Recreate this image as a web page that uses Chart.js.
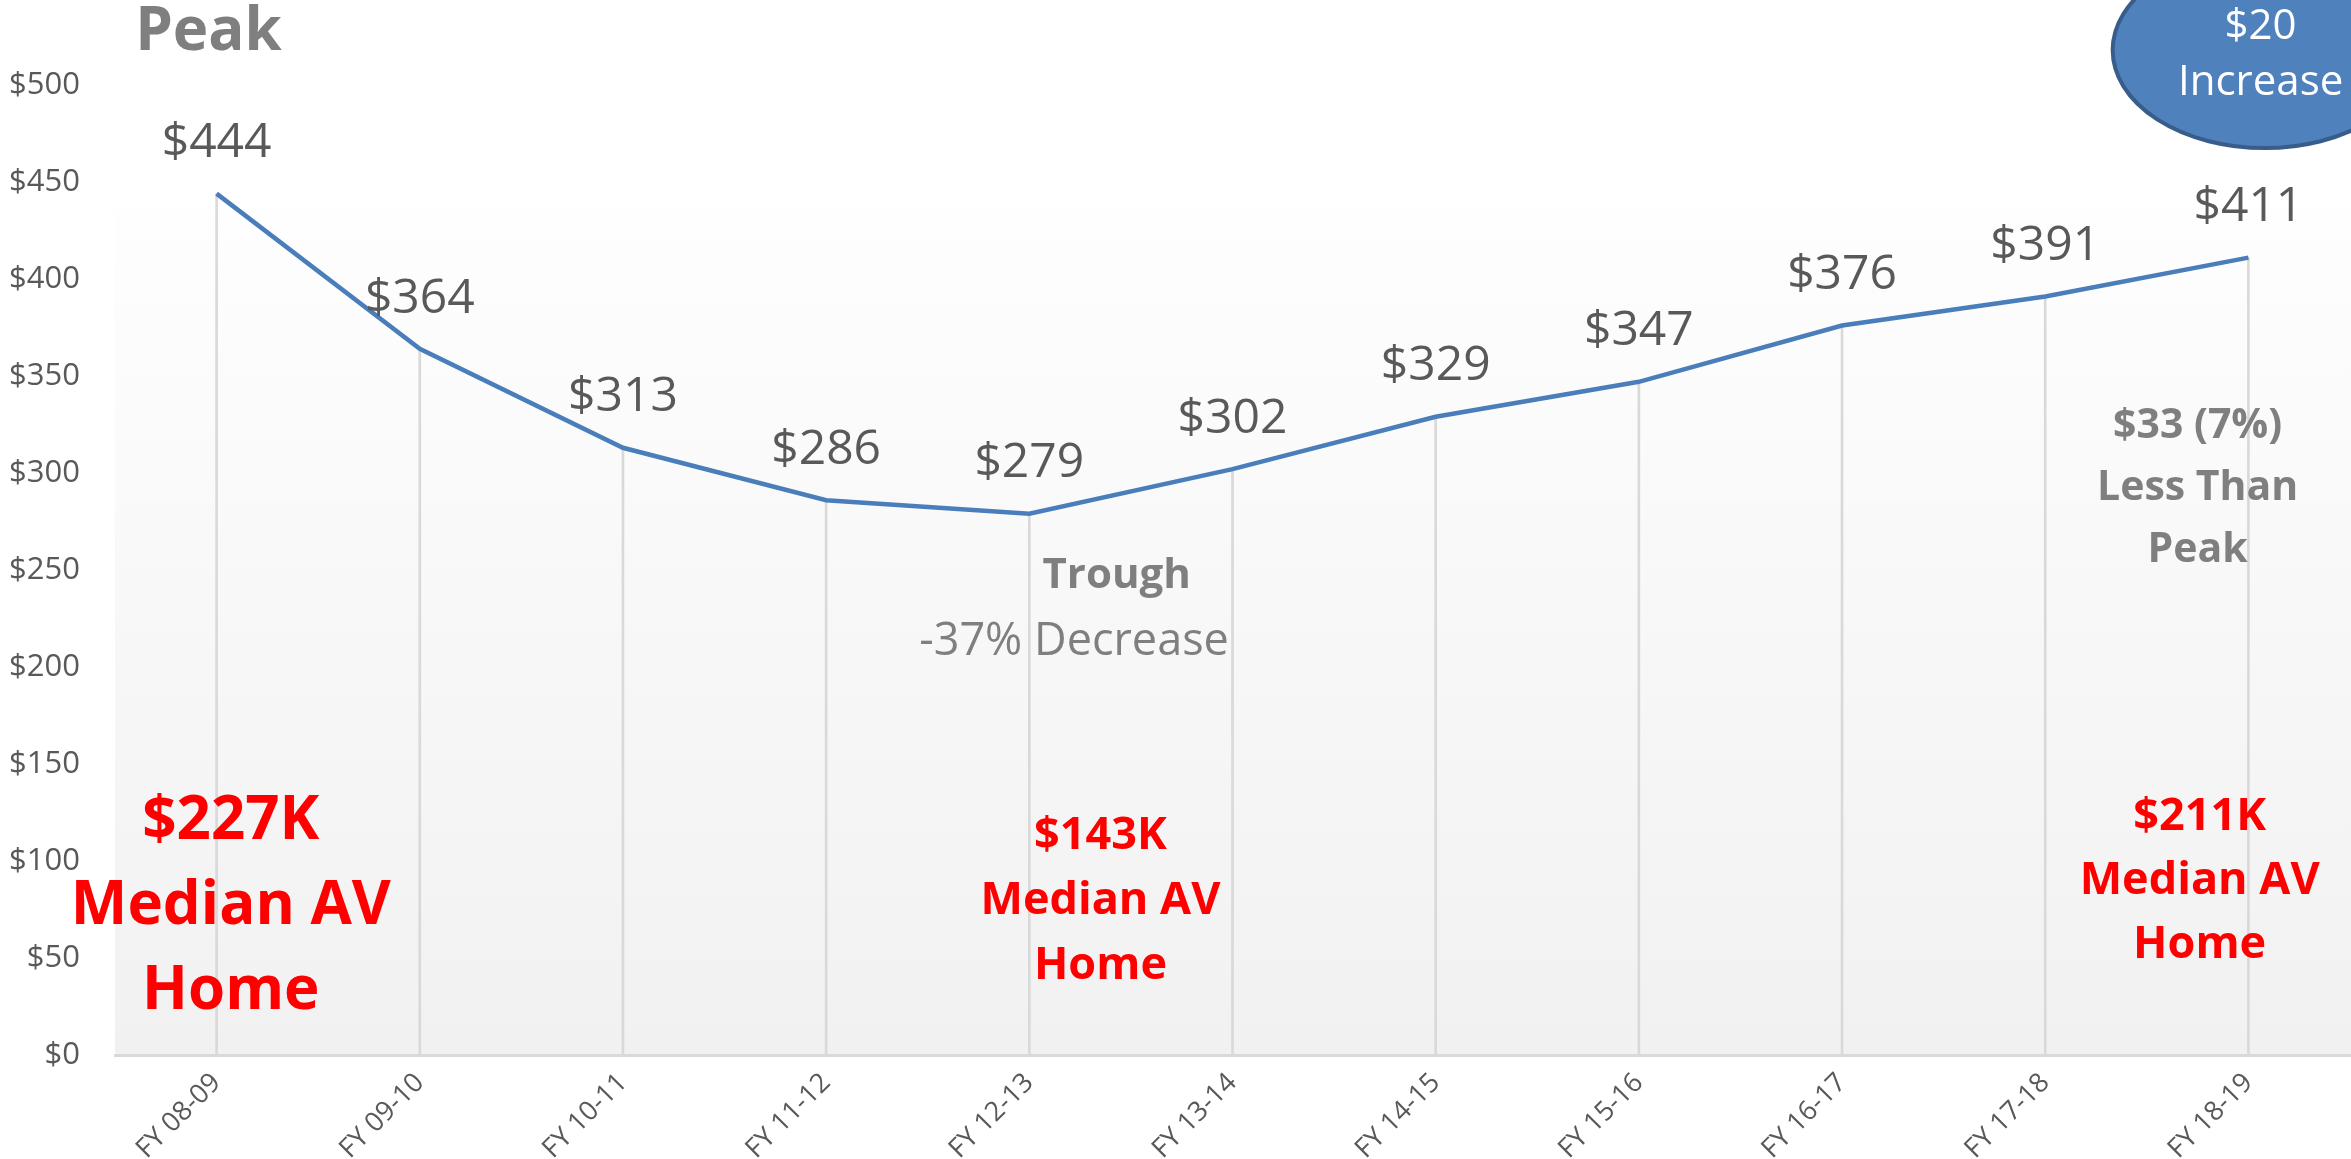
<!DOCTYPE html>
<html>
<head>
<meta charset="utf-8">
<script src="https://cdn.jsdelivr.net/npm/chart.js@4.4.0/dist/chart.umd.min.js"></script>
<style>
  html, body { margin: 0; padding: 0; background: #ffffff; }
  #wrap { width: 2351px; height: 1159px; position: relative; }
</style>
</head>
<body>
<div id="wrap"><canvas id="chart" width="2351" height="1159"></canvas></div>
<script>
// Fiscal years and values (dollars)
const categories = ['FY 08-09', 'FY 09-10', 'FY 10-11', 'FY 11-12', 'FY 12-13', 'FY 13-14',
                    'FY 14-15', 'FY 15-16', 'FY 16-17', 'FY 17-18', 'FY 18-19'];
const values = [444, 364, 313, 286, 279, 302, 329, 347, 376, 391, 411];
const yMin = 0;
const yMax = 500;
const yStep = 50;

const FONT = '"Open Sans", "Noto Sans", sans-serif';
const GRAY = '#595959';
const NOTE_GRAY = '#7f7f7f';
const RED = '#ff0000';

// Callout text, positioned in axis units (category index, value)
const notes = [
    { lines: ['Peak'], idx: -0.04, val: 527, lh: 0, font: 'bold 60px', color: NOTE_GRAY },
    { lines: ['$33 (7%)', 'Less Than', 'Peak'], idx: 9.75, val: 324, lh: 62, font: 'bold 41px', color: NOTE_GRAY },
    { lines: ['Trough'], idx: 4.43, val: 247, lh: 0, font: 'bold 42px', color: NOTE_GRAY },
    { lines: ['-37% Decrease'], idx: 4.22, val: 213, lh: 0, font: '45px', color: NOTE_GRAY },
    { lines: ['$227K', 'Median AV', 'Home'], idx: 0.07, val: 120, lh: 85, font: 'bold 60px', color: RED },
    { lines: ['$143K', 'Median AV', 'Home'], idx: 4.35, val: 113, lh: 65, font: 'bold 45px', color: RED },
    { lines: ['$211K', 'Median AV', 'Home'], idx: 9.76, val: 122.5, lh: 64, font: 'bold 45px', color: RED }
];

// Plot background: soft white-to-grey gradient
const backgroundPlugin = {
    id: 'plotBackground',
    beforeDraw(chart) {
        const { ctx, chartArea, scales } = chart;
        const top = scales.y.getPixelForValue(436);
        const g = ctx.createLinearGradient(0, top, 0, chartArea.bottom);
        g.addColorStop(0, '#fefefe');
        g.addColorStop(1, '#f1f1f1');
        ctx.save();
        ctx.fillStyle = g;
        ctx.fillRect(chartArea.left, top, chartArea.right - chartArea.left + 1, chartArea.bottom - top);
        ctx.restore();
    }
};

// Value labels above each line point, callouts and the ellipse badge
const labelPlugin = {
    id: 'labels',
    afterDatasetsDraw(chart) {
        const { ctx, scales } = chart;
        const meta = chart.getDatasetMeta(1);
        ctx.save();
        ctx.textAlign = 'center';
        ctx.textBaseline = 'middle';
        ctx.fillStyle = GRAY;
        ctx.font = '48px ' + FONT;
        meta.data.forEach((pt, i) => {
            ctx.fillText('$' + values[i], pt.x, pt.y - 50);
        });

        notes.forEach(n => {
            const x = scales.x.getPixelForValue(n.idx);
            const y = scales.y.getPixelForValue(n.val);
            ctx.font = n.font + ' ' + FONT;
            ctx.fillStyle = n.color;
            n.lines.forEach((t, k) => ctx.fillText(t, x, y + k * n.lh));
        });

        // "$20 Increase" ellipse
        const ex = scales.x.getPixelForValue(10.08);
        const ey = scales.y.getPixelForValue(518);
        ctx.beginPath();
        ctx.ellipse(ex, ey, 152, 98, 0, 0, Math.PI * 2);
        ctx.fillStyle = '#4f81bd';
        ctx.fill();
        ctx.lineWidth = 4;
        ctx.strokeStyle = '#385d8a';
        ctx.stroke();
        ctx.fillStyle = '#ffffff';
        ctx.font = '42px ' + FONT;
        const tx = scales.x.getPixelForValue(10.06);
        ctx.fillText('$20', tx, scales.y.getPixelForValue(530));
        ctx.fillText('Increase', tx, scales.y.getPixelForValue(501));
        ctx.restore();
    }
};

new Chart(document.getElementById('chart'), {
    data: {
        labels: categories,
        datasets: [
            {
                // drop lines from each point to the axis
                type: 'bar',
                data: values,
                backgroundColor: '#d9d9d9',
                barThickness: 2,
                order: 2
            },
            {
                type: 'line',
                data: values,
                borderColor: '#4a7ebb',
                borderWidth: 4.5,
                pointRadius: 0,
                tension: 0,
                fill: false,
                order: 1
            }
        ]
    },
    options: {
        responsive: false,
        animation: false,
        devicePixelRatio: 1,
        layout: { padding: { top: 85, right: 1, left: 0, bottom: 0 } },
        plugins: {
            legend: { display: false },
            tooltip: { enabled: false }
        },
        scales: {
            x: {
                type: 'category',
                offset: true,
                grid: { display: false },
                border: { display: true, color: '#d9d9d9', width: 3 },
                ticks: {
                    color: GRAY,
                    font: { family: FONT, size: 27 },
                    minRotation: 45,
                    maxRotation: 45,
                    padding: 4
                },
                afterFit(scale) { scale.height = 104; }
            },
            y: {
                min: yMin,
                max: yMax,
                grid: { display: false, drawTicks: false },
                border: { display: false },
                ticks: {
                    stepSize: yStep,
                    color: GRAY,
                    font: { family: FONT, size: 31 },
                    padding: 35,
                    callback: v => '$' + v
                },
                afterFit(scale) { scale.width = 115; }
            }
        }
    },
    plugins: [backgroundPlugin, labelPlugin]
});
</script>
</body>
</html>
